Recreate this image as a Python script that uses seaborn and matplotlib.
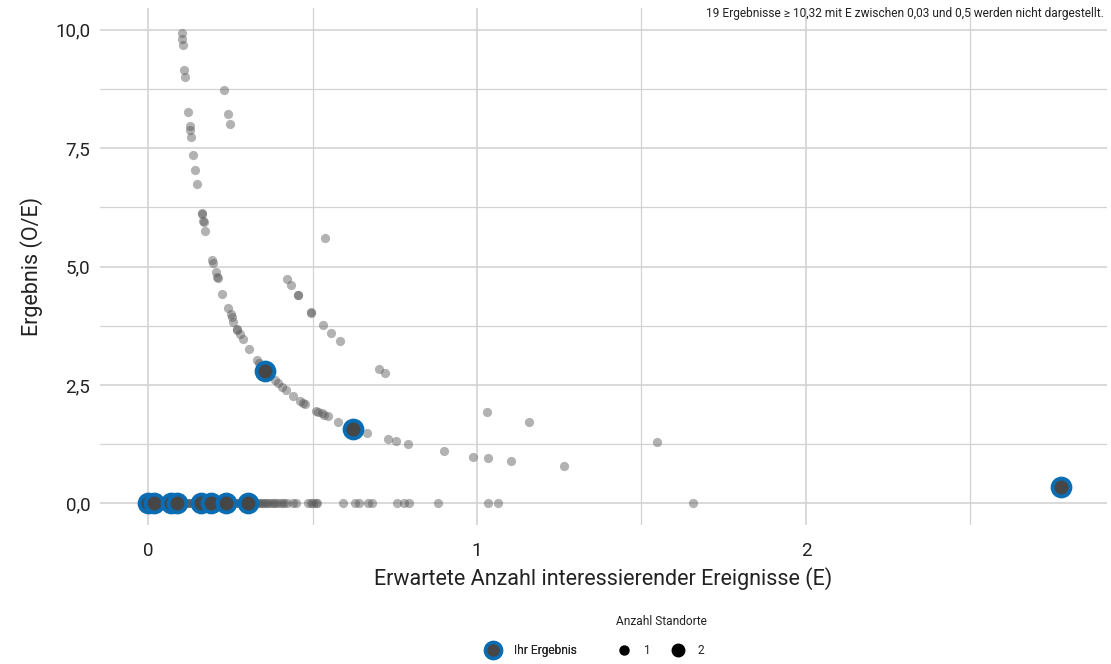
import numpy as np
import pandas as pd
import matplotlib
matplotlib.use("Agg")
import matplotlib.pyplot as plt
from matplotlib.lines import Line2D
from matplotlib.ticker import FixedLocator, FuncFormatter
import seaborn as sns

# expected events (E) and result (O/E) for all sites
e_curve = [0.102, 0.102, 0.105, 0.110, 0.112, 0.122, 0.128, 0.129, 0.131, 0.137,
           0.144, 0.150, 0.163, 0.164, 0.168, 0.169, 0.174, 0.195, 0.198, 0.206,
           0.211, 0.212, 0.226, 0.244, 0.251, 0.254, 0.259, 0.270, 0.271, 0.280,
           0.290, 0.308, 0.330, 0.338, 0.386, 0.395, 0.406, 0.419, 0.440, 0.462,
           0.472, 0.477, 0.511, 0.517, 0.528, 0.535, 0.546, 0.578, 0.665, 0.730,
           0.753, 0.791, 0.901, 0.989, 1.034, 1.103, 1.264,
           0.231, 0.244, 0.250, 0.4225, 0.434, 0.456, 0.457, 0.495, 0.496, 0.532,
           0.556, 0.583, 0.701, 0.719, 1.031, 1.157, 1.547,
           0.538]
oe_curve = [9.94, 9.81, 9.68, 9.15, 9.01, 8.27, 7.96, 7.89, 7.74, 7.36,
            7.03, 6.74, 6.14, 6.12, 5.96, 5.94, 5.75, 5.14, 5.07, 4.89,
            4.78, 4.75, 4.42, 4.12, 3.99, 3.93, 3.83, 3.69, 3.67, 3.57,
            3.47, 3.25, 3.02, 2.97, 2.60, 2.54, 2.46, 2.39, 2.26, 2.16,
            2.11, 2.09, 1.95, 1.93, 1.90, 1.87, 1.84, 1.72, 1.49, 1.35,
            1.32, 1.25, 1.10, 0.99, 0.96, 0.89, 0.78,
            8.73, 8.22, 8.02, 4.74, 4.62, 4.40, 4.39, 4.04, 4.03, 3.76,
            3.59, 3.43, 2.84, 2.76, 1.93, 1.72, 1.29,
            5.60]

# sites with O/E = 0
e_zero = [0.000, 0.003, 0.006, 0.010, 0.014, 0.018, 0.022, 0.027, 0.032, 0.037,
          0.042, 0.047, 0.052, 0.057, 0.062, 0.067, 0.072, 0.077, 0.082, 0.087,
          0.092, 0.097, 0.102, 0.107, 0.112, 0.117, 0.122, 0.127, 0.132, 0.137,
          0.142, 0.147, 0.152, 0.157, 0.162, 0.167, 0.172, 0.177, 0.182, 0.187,
          0.192, 0.197, 0.202, 0.207, 0.212, 0.217, 0.222, 0.227, 0.232, 0.237,
          0.242, 0.247, 0.252, 0.257, 0.262, 0.267, 0.272, 0.277, 0.282, 0.287,
          0.292, 0.297, 0.302, 0.307, 0.312, 0.318, 0.324, 0.330, 0.336, 0.342,
          0.348, 0.355, 0.362, 0.369, 0.376, 0.383, 0.390, 0.398, 0.406, 0.414,
          0.423, 0.440, 0.450, 0.485, 0.495, 0.503, 0.510, 0.515,
          0.593, 0.629, 0.641, 0.669, 0.681, 0.757, 0.778, 0.793,
          0.881, 1.033, 1.064, 1.657]

# own results ("Ihr Ergebnis")
e_own = [0.000, 0.018, 0.070, 0.088, 0.160, 0.190, 0.237, 0.304, 0.356, 0.624, 2.775]
oe_own = [0.0, 0.0, 0.0, 0.0, 0.0, 0.0, 0.0, 0.0, 2.80, 1.58, 0.34]

x_ticks = [0, 1, 2]
y_ticks = [0, 2.5, 5, 7.5, 10]

all_e = e_curve + e_zero
all_oe = oe_curve + [0.0] * len(e_zero)
df = pd.DataFrame({"E": all_e, "OE": all_oe, "standorte": [1] * len(all_e)})
own = pd.DataFrame({"E": e_own, "OE": oe_own})

sns.set_theme(style="white")
plt.rcParams["font.family"] = ["Roboto", "DejaVu Sans"]

fig = plt.figure(figsize=(11.11, 6.64), dpi=100)
ax = fig.add_axes([0.090, 0.209, 0.9064, 0.779])

grid_col = "#d3d3d3"
txt_col = "#222222"
sns.scatterplot(data=df, x="E", y="OE", color="#555555", alpha=0.45,
                s=44, linewidth=0, ax=ax, legend=False, zorder=3)
sns.scatterplot(data=own, x="E", y="OE", color="#464646", edgecolor="#0a6db3",
                s=165, linewidth=2.8, ax=ax, legend=False, zorder=4)

ax.set_xlim(-0.146, 2.915)
ax.set_ylim(-0.46, 10.46)
ax.xaxis.set_major_locator(FixedLocator(x_ticks))
ax.yaxis.set_major_locator(FixedLocator(y_ticks))
ax.xaxis.set_minor_locator(FixedLocator([0.5, 1.5, 2.5]))
ax.yaxis.set_minor_locator(FixedLocator([1.25, 3.75, 6.25, 8.75]))
ax.yaxis.set_major_formatter(FuncFormatter(lambda v, p: f"{v:.1f}".replace(".", ",")))
ax.grid(which="major", color=grid_col, linewidth=1.2, zorder=0)
ax.grid(which="minor", color=grid_col, linewidth=0.9, zorder=0)
ax.set_axisbelow(True)
for s in ax.spines.values():
    s.set_visible(False)
ax.tick_params(axis="both", which="both", length=0, labelsize=13.5, colors=txt_col)
ax.tick_params(axis="x", pad=12)
ax.tick_params(axis="y", pad=7)

ax.set_xlabel("Erwartete Anzahl interessierender Ereignisse (E)", fontsize=15.5,
              color=txt_col, labelpad=5)
ax.set_ylabel("Ergebnis (O/E)", fontsize=15.5, color=txt_col, labelpad=9)

fig.text(0.9935, 0.979, "19 Ergebnisse \u2265 10,32 mit E zwischen 0,03 und 0,5 werden nicht dargestellt.",
         ha="right", va="center", fontsize=8.6, color=txt_col)

# legends
h_own = Line2D([], [], marker="o", linestyle="", markersize=11.5, markerfacecolor="#464646",
               markeredgecolor="#0a6db3", markeredgewidth=2.5)
leg1 = fig.legend([h_own], ["Ihr Ergebnis"], loc="center", bbox_to_anchor=(0.476, 0.0196),
                  frameon=False, fontsize=8.6, handletextpad=0.8)
h1 = Line2D([], [], marker="o", linestyle="", markersize=6.5, color="black")
h2 = Line2D([], [], marker="o", linestyle="", markersize=9, color="black")
leg2 = fig.legend([h1, h2], ["1", "2"], loc="center", bbox_to_anchor=(0.592, 0.0196),
                  ncol=2, frameon=False, fontsize=8.6, handletextpad=0.6, columnspacing=1.4)
fig.add_artist(leg1)
fig.text(0.595, 0.0633, "Anzahl Standorte", ha="center", va="center", fontsize=8.6, color=txt_col)

fig.savefig("out.png", dpi=100)
